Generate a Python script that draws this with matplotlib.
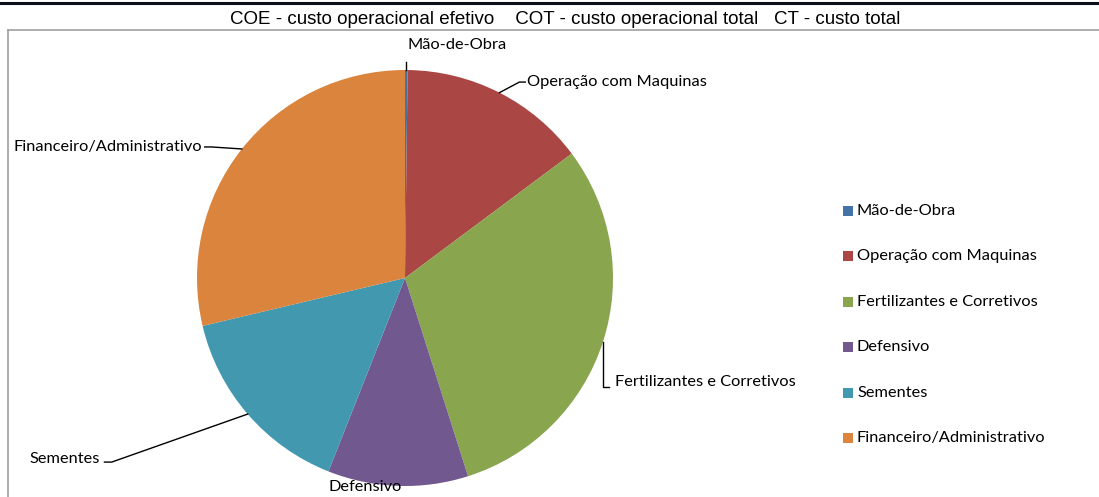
import numpy as np
import matplotlib
matplotlib.use('Agg')
import matplotlib.pyplot as plt
from matplotlib.lines import Line2D
from matplotlib.patches import Rectangle

# data
labels = ['Mão-de-Obra', 'Operação com Maquinas', 'Fertilizantes e Corretivos',
          'Defensivo', 'Sementes', 'Financeiro/Administrativo']
shares = [0.2, 14.6, 30.3, 10.9, 15.3, 28.7]
colors = ['#4572A7', '#AA4643', '#89A54E', '#71588F', '#4198AF', '#DB843D']
title = 'COE - custo operacional efetivo    COT - custo operacional total   CT - custo total'

W, H = 1099, 497
fig = plt.figure(figsize=(W / 100, H / 100), dpi=100)

# pie axes: centre (405, 278) px, radius 208 px
cx, cy, r = 405, 278, 208
ax = fig.add_axes([(cx - r) / W, (H - cy - r) / H, 2 * r / W, 2 * r / H])
ax.pie(shares, colors=colors, startangle=90, counterclock=False, radius=1,
       wedgeprops=dict(linewidth=0))
ax.set_xlim(-1, 1)
ax.set_ylim(-1, 1)
ax.set_aspect('equal')
ax.axis('off')

lab_font = dict(family='Lato', fontsize=11.8, color='black')

# wedge mid angles (clockwise from top)
cum = np.cumsum([0] + shares) / sum(shares) * 360
mid = (cum[:-1] + cum[1:]) / 2

def edge(i):
    a = np.radians(mid[i])
    return np.sin(a), np.cos(a)

# label layout: (text x, text y, ha, path points after the anchor)
layout = [
    (0.012, 1.12, 'left', [(None, 1.04)]),
    (0.585, 0.942, 'left', [(0.55, 0.942), (0.578, 0.942)]),
    (1.01, -0.50, 'left', [(None, -0.524), (0.98, -0.524)]),
    (-0.19, -1.005, 'center', []),
    (-1.466, -0.87, 'right', [(-1.41, -0.885), (-1.445, -0.885)]),
    (-0.975, 0.63, 'right', [(-0.93, 0.63), (-0.963, 0.63)]),
]

for i, lab in enumerate(labels):
    tx, ty, ha, path = layout[i]
    if path:
        x0, y0 = edge(i)
        xs, ys = [x0], [y0]
        for px, py in path:
            xs.append(x0 if px is None else px)
            ys.append(py)
        ax.plot(xs, ys, color='black', lw=1.0, clip_on=False)
    ax.text(tx, ty, lab, ha=ha, va='center', clip_on=False, **lab_font)

# legend, drawn in figure pixels
for i, (lab, col) in enumerate(zip(labels, colors)):
    y = 211 + i * 45.4
    fig.add_artist(Rectangle((843 / W, (H - y - 5) / H), 10 / W, 10 / H,
                             transform=fig.transFigure, color=col, lw=0))
    fig.text(857 / W, (H - y) / H, lab, ha='left', va='center', **lab_font)

# title and frame
fig.text(565.5 / W, (H - 19) / H, title, ha='center', va='center',
         family='Liberation Sans', fontsize=13.5)
fig.add_artist(Line2D([0, 1], [(H - 2.5) / H] * 2, color='#0b0f1a', lw=2.2))
fig.add_artist(Line2D([7.5 / W, 1], [(H - 29.5) / H] * 2, color='#a0a0a0', lw=1.2))
fig.add_artist(Line2D([7.5 / W] * 2, [0, (H - 29.5) / H], color='#a0a0a0', lw=1.2))

fig.savefig('out.png', dpi=100)
